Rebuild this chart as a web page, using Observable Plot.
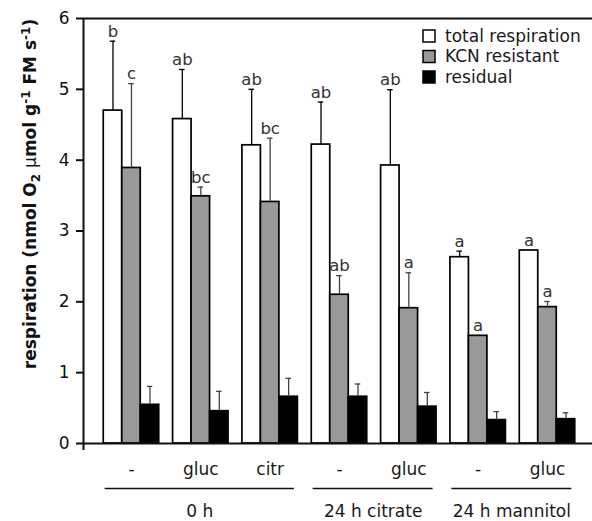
<!DOCTYPE html>
<html><head><meta charset="utf-8">
<script src="https://cdn.jsdelivr.net/npm/d3@7"></script>
<script src="https://cdn.jsdelivr.net/npm/@observablehq/plot@0.6"></script>
<style>
body{margin:0;background:#fff;}
#chart svg{display:block;}
#chart g[aria-label^="y-axis"]{stroke-width:2;}
#chart g[aria-label^="y-axis"] text{font-size:17px;stroke:none;fill:#111;}
</style></head><body><div id="chart"></div>
<script>
// ---- data ----
const groups = ["-", "gluc", "citr", "-", "gluc", "-", "gluc"];
const series = ["total respiration", "KCN resistant", "residual"];
const total = [4.70, 4.58, 4.21, 4.22, 3.925, 2.63, 2.725];
const totalErr = [0.98, 0.70, 0.79, 0.60, 1.07, 0.085, 0];
const kcn = [3.89, 3.49, 3.41, 2.10, 1.91, 1.52, 1.925];
const kcnErr = [1.19, 0.13, 0.90, 0.27, 0.50, 0, 0.08];
const residual = [0.546, 0.456, 0.66, 0.66, 0.52, 0.33, 0.343];
const residualErr = [0.26, 0.28, 0.26, 0.18, 0.20, 0.12, 0.09];
const totalLetters = ["b", "ab", "ab", "ab", "ab", "a", "a"];
const kcnLetters = ["c", "bc", "bc", "ab", "a", "a", "a"];
const treatments = ["0 h", "24 h citrate", "24 h mannitol"];
const treatmentFirst = [0, 3, 5];
const treatmentLast = [2, 4, 6];
const yTicks = [0, 1, 2, 3, 4, 5, 6];

// ---- table ----
const values = [total, kcn, residual];
const errs = [totalErr, kcnErr, residualErr];
const letters = [totalLetters, kcnLetters, groups.map(() => "")];
const groupW = 0.8, barW = groupW / 3, cap = 0.04;
const rows = [];
groups.forEach((g, i) => series.forEach((s, k) => rows.push({
  i, k, series: s, value: values[k][i], err: errs[k][i], letter: letters[k][i]
})));
const barX1 = d => d.i - groupW / 2 + d.k * barW;
const barCx = d => barX1(d) + barW / 2;
const errTop = d => d.value + d.err;
const spans = treatments.map((t, j) => ({name: t, a: treatmentFirst[j] - 0.38, b: treatmentLast[j] + 0.35}));
const withErr = rows.filter(d => d.err > 0);
const FONT = "'DejaVu Sans', sans-serif";

const plot = Plot.plot({
  width: 592, height: 521,
  marginTop: 18, marginBottom: 78, marginLeft: 83, marginRight: 0,
  style: {fontFamily: FONT, fontSize: "16px", color: "#111", background: "white"},
  x: {domain: [-0.692, 6.649], axis: null},
  y: {domain: [0, 6], ticks: yTicks, tickSize: 7, tickPadding: 7, label: null, tickFormat: d => String(d)},
  color: {domain: series, range: ["white", "#999999", "black"]},
  marks: [
    Plot.rectY(rows, {x1: barX1, x2: d => barX1(d) + barW, y: "value", fill: "series", stroke: "black", strokeWidth: 1.7}),
    Plot.ruleX(withErr.filter(d => d.k === 0), {x: barCx, y1: "value", y2: errTop, stroke: "black", strokeWidth: 1.3}),
    Plot.ruleY(withErr.filter(d => d.k === 0), {y: errTop, x1: d => barCx(d) - cap, x2: d => barCx(d) + cap, stroke: "black", strokeWidth: 1.3}),
    Plot.ruleX(withErr.filter(d => d.k > 0), {x: barCx, y1: "value", y2: errTop, stroke: "#444", strokeWidth: 1.3}),
    Plot.ruleY(withErr.filter(d => d.k > 0), {y: errTop, x1: d => barCx(d) - cap, x2: d => barCx(d) + cap, stroke: "#444", strokeWidth: 1.3}),
    Plot.text(rows.filter(d => d.letter), {x: barCx, y: errTop, text: "letter", lineAnchor: "bottom", dy: -4.5, fontSize: 16.5, fill: "#333"}),
    Plot.ruleY([0], {strokeWidth: 2}),
    Plot.ruleY([6], {strokeWidth: 2}),
    Plot.ruleX([-0.692], {y1: -0.1, y2: 6, strokeWidth: 2}),
    Plot.text(groups, {x: (d, i) => i, text: d => d, frameAnchor: "bottom", dy: 31, fontSize: 17, fill: "#1a1a1a"}),
    Plot.ruleY(spans, {y: () => 0, x1: "a", x2: "b", dy: 45, strokeWidth: 1.7}),
    Plot.text(spans, {x: d => (d.a + d.b) / 2, text: "name", frameAnchor: "bottom", dy: 73, fontSize: 17, fill: "#1a1a1a"})
  ]
});
document.getElementById("chart").appendChild(plot);

const svg = d3.select(plot);
// y-axis title
const t = svg.append("text")
  .attr("transform", "translate(36,194) rotate(-90)")
  .attr("text-anchor", "middle")
  .attr("font-family", FONT)
  .attr("font-weight", "bold")
  .attr("font-size", 17)
  .attr("fill", "#111");
t.append("tspan").text("respiration (nmol O");
t.append("tspan").attr("font-size", 12).attr("dy", 4).text("2");
t.append("tspan").attr("dy", -4).text(" ");
t.append("tspan").attr("font-weight", "normal").text("µ");
t.append("tspan").text("mol g");
t.append("tspan").attr("font-size", 12).attr("dy", -6).text("-1");
t.append("tspan").attr("dy", 6).text(" FM s");
t.append("tspan").attr("font-size", 12).attr("dy", -6).text("-1");
t.append("tspan").attr("dy", 6).text(")");

// legend
const fills = ["white", "#999999", "black"];
const lg = svg.append("g").attr("font-size", 17).attr("font-family", FONT)
  .attr("fill", "#1a1a1a").attr("text-anchor", "start");
series.forEach((s, k) => {
  const cy = 36 + k * 20.5;
  lg.append("rect").attr("x", 423).attr("y", cy - 6).attr("width", 12).attr("height", 12)
    .attr("fill", fills[k]).attr("stroke", "black").attr("stroke-width", 1.5);
  lg.append("text").attr("x", 445).attr("y", cy).attr("dy", "0.35em").attr("text-anchor", "start").text(s);
});
</script></body></html>
